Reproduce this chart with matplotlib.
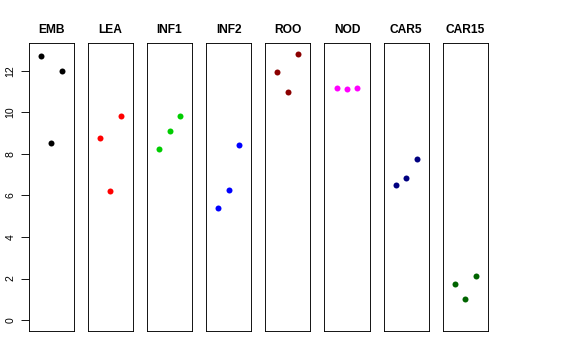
import matplotlib
matplotlib.use("Agg")
import matplotlib.pyplot as plt

plt.rcParams['font.family'] = ['Liberation Sans', 'DejaVu Sans']

groups = ['EMB', 'LEA', 'INF1', 'INF2', 'ROO', 'NOD', 'CAR5', 'CAR15']
colors = ['black', 'red', '#00CD00', 'blue', '#8B0000', 'magenta', '#000080', '#006400']
xs = [1, 2, 3]
emb = [12.70, 8.52, 12.00]
lea = [8.74, 6.19, 9.82]
inf1 = [8.21, 9.08, 9.82]
inf2 = [5.39, 6.24, 8.41]
roo = [11.95, 10.96, 12.82]
nod = [11.16, 11.12, 11.16]
car5 = [6.51, 6.85, 7.73]
car15 = [1.72, 1.00, 2.14]
values = [emb, lea, inf1, inf2, roo, nod, car5, car15]

fig, axes = plt.subplots(1, 8, figsize=(8, 5), dpi=72, sharey=True)
fig.subplots_adjust(left=0.0498, right=0.847, top=0.8797, bottom=0.0814, wspace=0.31)

for ax, name, col, ys in zip(axes, groups, colors, values):
    ax.plot(xs, ys, 'o', color=col, ms=6, mec='none')
    ax.set_xlim(-0.16, 4.16)
    ax.set_ylim(-0.51, 13.32)
    ax.set_xticks([])
    ax.set_title(name, fontsize=12, fontweight='bold', pad=10)
    for s in ax.spines.values():
        s.set_linewidth(0.9)
    ax.tick_params(axis='y', length=0)

axes[0].set_yticks([0, 2, 4, 6, 8, 10, 12])
axes[0].tick_params(axis='y', length=8, width=0.9, labelsize=10.5, pad=5)
for lab in axes[0].get_yticklabels():
    lab.set_rotation(90)
    lab.set_va('center')

plt.savefig('out.png', dpi=72)
